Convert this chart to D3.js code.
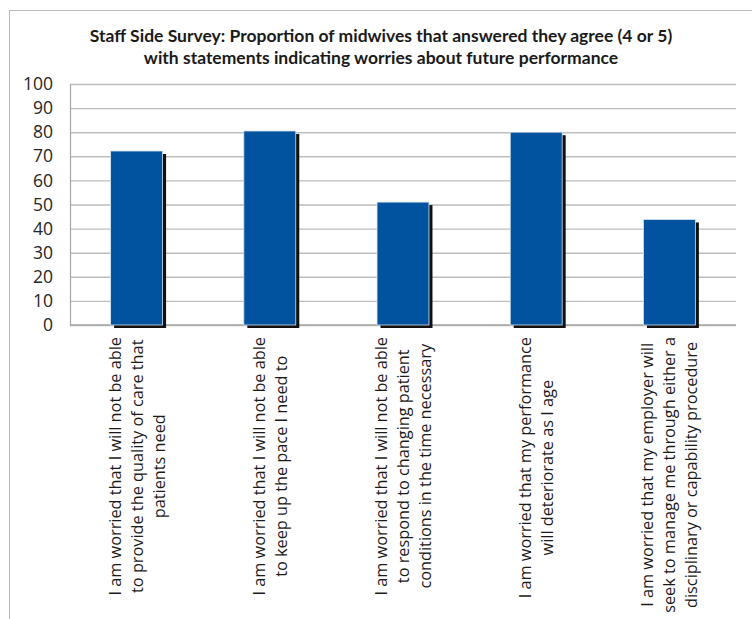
<!DOCTYPE html>
<html>
<head>
<meta charset="utf-8">
<script src="https://cdn.jsdelivr.net/npm/d3@7"></script>
<style>
  body { margin: 0; background: #fff; }
  svg { display: block; font-family: "Open Sans", sans-serif; }
</style>
</head>
<body>
<div id="chart"></div>
<script>
// --------------------------------------
//  Data
// --------------------------------------

const titleLines = [
  "Staff Side Survey: Proportion of midwives that answered they agree (4 or 5)",
  "with statements indicating worries about future performance"
];

const categories = [
  ["I am worried that I will not be able", "to provide the quality of care that", "patients need"],
  ["I am worried that I will not be able", "to keep up the pace I need to"],
  ["I am worried that I will not be able", "to respond to changing patient", "conditions in the time necessary"],
  ["I am worried that my performance", "will deteriorate as I age"],
  ["I am worried that my employer will", "seek to manage me through either a", "disciplinary or capability procedure"]
];

const values = [72.2, 80.5, 51, 80, 43.8];

const yTicks = [0, 10, 20, 30, 40, 50, 60, 70, 80, 90, 100];

// --------------------------------------
//  Canvas
// --------------------------------------

const width = 752, height = 619;
const margin = { top: 84, right: 16, bottom: 294, left: 70 };
const innerwidth = width - margin.left - margin.right;
const innerheight = height - margin.top - margin.bottom;

const svg = d3.select("#chart")
  .append("svg")
    .attr("width", width)
    .attr("height", height)
    .attr("viewBox", [0, 0, width, height]);

// outer frame
svg.append("rect")
    .attr("x", 9.5)
    .attr("y", 10.5)
    .attr("width", 760)
    .attr("height", 620)
    .attr("fill", "none")
    .attr("stroke", "#b8b8b8")
    .attr("stroke-width", 1);

// title
svg.append("g")
  .selectAll("text")
  .data(titleLines)
  .join("text")
    .attr("x", 381)
    .attr("y", (d, i) => 42 + i * 22)
    .attr("text-anchor", "middle")
    .attr("font-family", "Lato, sans-serif")
    .attr("font-size", 17.5)
    .attr("font-weight", "bold")
    .attr("fill", "#1a1a1a")
    .text(d => d);

const inner = svg.append("g")
    .attr("transform", `translate(${margin.left}, ${margin.top})`);

// --------------------------------------
//  Scales
// --------------------------------------

const x = d3.scaleBand()
    .domain(d3.range(categories.length))
    .range([0, innerwidth])
    .paddingInner(0.61)
    .paddingOuter(0.305);

const y = d3.scaleLinear()
    .domain([0, 100])
    .range([innerheight, 0]);

// --------------------------------------
//  Axes
// --------------------------------------

inner.append("g")
    .attr("class", "grid")
    .call(d3.axisLeft(y)
        .tickValues(yTicks)
        .tickSize(-innerwidth)
        .tickFormat(""))
    .call(g => g.select(".domain").remove())
    .call(g => g.selectAll("line")
        .attr("stroke", "#bdbdbd")
        .attr("stroke-width", 1.4));

inner.append("g")
    .attr("class", "y-axis")
    .call(d3.axisLeft(y)
        .tickValues(yTicks)
        .tickSize(0)
        .tickPadding(17))
    .call(g => g.select(".domain")
        .attr("stroke", "#a6a6a6")
        .attr("stroke-width", 1.2))
    .call(g => g.selectAll("text")
        .attr("font-size", 17.5)
        .attr("font-family", "Open Sans, sans-serif")
        .attr("fill", "#262626"));

inner.append("line")
    .attr("x1", 0)
    .attr("x2", innerwidth)
    .attr("y1", innerheight)
    .attr("y2", innerheight)
    .attr("stroke", "#a6a6a6")
    .attr("stroke-width", 1.4);

// --------------------------------------
//  Bars
// --------------------------------------

inner.selectAll(".shadow")
  .data(values)
  .join("rect")
    .attr("class", "shadow")
    .attr("x", (d, i) => x(i) + 3.5)
    .attr("y", d => y(d) + 3)
    .attr("width", x.bandwidth())
    .attr("height", d => innerheight - y(d))
    .attr("fill", "#111");

inner.selectAll(".bar")
  .data(values)
  .join("rect")
    .attr("class", "bar")
    .attr("x", (d, i) => x(i))
    .attr("y", d => y(d))
    .attr("width", x.bandwidth())
    .attr("height", d => innerheight - y(d))
    .attr("fill", "#0153a0")
    .attr("stroke", "#d8e4f0")
    .attr("stroke-width", 0.8);

// --------------------------------------
//  Category labels
// --------------------------------------

const labelTop = innerheight + 12;
const lineGap = 22;

const labels = inner.selectAll(".label")
  .data(categories)
  .join("g")
    .attr("class", "label");

labels.each(function(lines, i) {
  const g = d3.select(this);
  const t = g.selectAll("text")
    .data(lines)
    .join("text")
      .attr("text-anchor", "middle")
      .attr("font-size", 16.3)
      .attr("fill", "#1a1a1a")
      .text(d => d);
  const maxLen = d3.max(t.nodes(), n => n.getComputedTextLength());
  const cx = x(i) + x.bandwidth() / 2;
  const n = lines.length;
  t.attr("transform", (d, j) => {
      const lx = cx + (j - (n - 1) / 2) * lineGap + 6;
      return `translate(${lx}, ${labelTop + maxLen / 2}) rotate(-90)`;
    });
});
</script>
</body>
</html>
